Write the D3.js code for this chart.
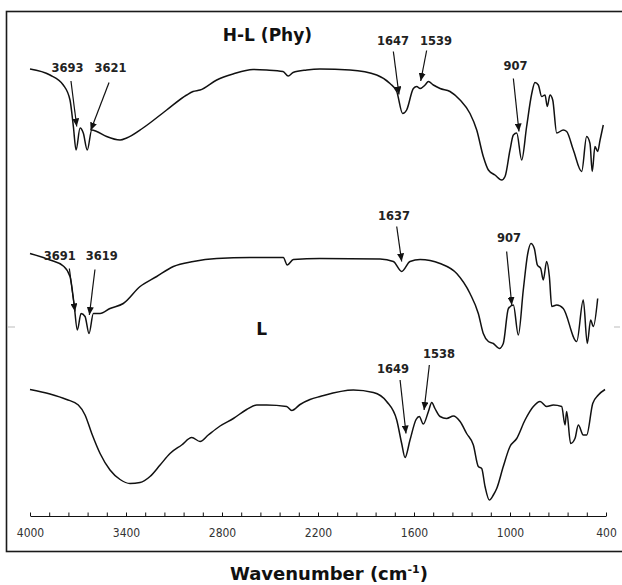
<!DOCTYPE html>
<html>
<head>
<meta charset="utf-8">
<script src="https://cdn.jsdelivr.net/npm/d3@7"></script>
<style>
  body { margin: 0; background: #fff; }
  svg { display: block; }
</style>
</head>
<body>
<script>
// FTIR spectra: [wavenumber (cm-1), transmittance (a.u., offset)]
var spectrumHL = [
  [4000, 89.8], [3875, 88.6], [3792, 86.6], [3750, 83.6], [3729, 78.3], [3712, 73.6],
  [3687, 78.0], [3667, 77.0], [3642, 73.6], [3614, 77.6], [3583, 77.3], [3521, 76.3],
  [3437, 75.6], [3396, 76.0], [3294, 78.0], [3146, 81.6], [3021, 84.6], [2981, 85.3],
  [2937, 85.6], [2833, 87.6], [2731, 88.8], [2606, 89.7], [2521, 89.6], [2419, 89.3],
  [2386, 88.4], [2356, 89.1], [2271, 89.6], [2188, 89.8], [2000, 89.6], [1833, 88.6],
  [1750, 86.9], [1708, 85.3], [1671, 80.9], [1646, 81.6], [1604, 85.9], [1583, 86.3],
  [1562, 85.9], [1531, 86.6], [1510, 87.3], [1479, 86.6], [1437, 85.9], [1375, 85.3],
  [1312, 83.6], [1250, 80.9], [1208, 77.6], [1167, 72.3], [1135, 69.6], [1094, 68.6],
  [1052, 67.6], [1031, 68.3], [1000, 73.6], [979, 76.6], [958, 77.0], [927, 71.6],
  [896, 78.3], [864, 84.9], [844, 87.1], [823, 86.6], [802, 84.3], [781, 84.6],
  [767, 82.3], [750, 84.6], [733, 83.6], [708, 77.0], [667, 77.6], [646, 77.3],
  [604, 73.6], [552, 69.3], [521, 76.3], [500, 74.9], [486, 69.3], [469, 74.3],
  [452, 73.3], [437, 75.6], [417, 78.6]
];

var spectrumL = [
  [4000, 52.9], [3875, 51.6], [3792, 50.4], [3750, 48.3], [3725, 42.9], [3704, 37.6],
  [3681, 40.9], [3656, 40.3], [3631, 36.9], [3604, 40.9], [3562, 40.9], [3500, 41.9],
  [3417, 42.9], [3312, 46.3], [3208, 48.3], [3104, 50.3], [2979, 51.3], [2833, 51.9],
  [2625, 52.1], [2417, 52.1], [2392, 50.6], [2354, 51.7], [2188, 51.9], [1812, 51.8],
  [1729, 51.3], [1677, 49.3], [1625, 51.3], [1562, 51.7], [1437, 50.9], [1333, 48.9],
  [1250, 44.9], [1198, 40.9], [1167, 36.9], [1135, 35.3], [1104, 34.9], [1067, 33.9],
  [1042, 34.9], [1010, 41.9], [979, 42.6], [948, 36.6], [917, 45.6], [889, 52.9],
  [869, 54.9], [848, 53.9], [829, 50.6], [808, 49.9], [792, 47.6], [771, 51.3],
  [754, 48.3], [739, 42.3], [708, 42.6], [667, 41.9], [583, 35.3], [542, 43.6],
  [517, 34.9], [496, 39.6], [479, 38.3], [452, 43.9]
];

var spectrumRaw = [
  [4000, 25.7], [3875, 24.8], [3771, 23.7], [3698, 22.6], [3656, 20.6], [3614, 16.9],
  [3562, 12.9], [3500, 9.6], [3437, 7.7], [3375, 6.9], [3312, 7.1], [3250, 8.3],
  [3187, 10.6], [3125, 12.9], [3052, 14.6], [2989, 16.1], [2937, 15.3], [2886, 16.6],
  [2812, 18.4], [2729, 19.9], [2646, 21.7], [2583, 22.6], [2521, 22.6], [2396, 22.3],
  [2364, 21.5], [2312, 22.7], [2250, 23.7], [2187, 24.3], [1979, 25.6], [1854, 25.1],
  [1771, 23.3], [1708, 19.6], [1677, 14.9], [1656, 12.1], [1625, 15.6], [1587, 19.7],
  [1567, 20.3], [1542, 18.8], [1510, 21.3], [1489, 23.1], [1469, 21.9], [1437, 20.3],
  [1396, 19.9], [1354, 20.4], [1312, 19.3], [1271, 16.9], [1229, 14.6], [1198, 10.3],
  [1177, 9.9], [1156, 6.3], [1129, 3.6], [1104, 4.6], [1083, 5.9], [1042, 10.3],
  [1000, 14.3], [958, 15.9], [906, 19.6], [854, 22.3], [812, 23.3], [771, 22.3],
  [729, 22.6], [677, 22.3], [656, 18.6], [646, 21.3], [621, 14.9], [594, 15.9],
  [573, 18.6], [542, 16.6], [521, 16.6], [483, 22.9], [448, 24.6], [406, 25.7]
];

// peak labels: text, label position [wn, T], arrow from [wn, T] to [wn, T]
var peaks = [
  {text: "3693", at: [3766, 89.2], from: [3744, 87.4], to: [3708, 78.3]},
  {text: "3621", at: [3497, 89.2], from: [3506, 87.1], to: [3621, 77.5]},
  {text: "1647", at: [1731, 94.6], from: [1729, 93.3], to: [1694, 84.7]},
  {text: "1539", at: [1462, 94.6], from: [1521, 93.5], to: [1558, 87.4]},
  {text: "907",  at: [966, 89.6],  from: [979, 87.9],  to: [944, 77.3]},
  {text: "3691", at: [3814, 51.6], from: [3754, 49.9], to: [3719, 41.3]},
  {text: "3619", at: [3552, 51.6], from: [3594, 49.7], to: [3629, 40.6]},
  {text: "1637", at: [1725, 59.6], from: [1708, 58.3], to: [1677, 51.3]},
  {text: "907",  at: [1006, 55.3], from: [1021, 53.3], to: [989, 42.6]},
  {text: "1649", at: [1731, 29.0], from: [1687, 27.6], to: [1650, 16.9]},
  {text: "1538", at: [1444, 32.0], from: [1504, 30.6], to: [1537, 21.6]}
];

var sampleNames = [
  {text: "H-L (Phy)", at: [2516, 95.4]},
  {text: "L", at: [2552, 36.6]}
];

var tickLabels = [4000, 3400, 2800, 2200, 1600, 1000, 400];
var minorStep = 120;

var width = 622, height = 585;

var svg = d3.select("body").append("svg")
  .attr("width", width)
  .attr("height", height);

var x = d3.scaleLinear().domain([4000, 400]).range([30, 606]);
var y = d3.scaleLinear().domain([0, 100]).range([518, 18]);

// frame
svg.append("rect")
  .attr("x", 6.5).attr("y", 11.5)
  .attr("width", 620).attr("height", 540)
  .attr("fill", "none")
  .attr("stroke", "#1a1a1a")
  .attr("stroke-width", 1.6);

svg.append("line").attr("x1", 8).attr("x2", 15).attr("y1", 327).attr("y2", 327)
  .attr("stroke", "#bbb");
svg.append("line").attr("x1", 614).attr("x2", 620).attr("y1", 327).attr("y2", 327)
  .attr("stroke", "#bbb");

// axis
var tickVals = d3.range(4000, 399, -minorStep);
var axis = svg.append("g")
  .attr("transform", "translate(0,516)")
  .call(d3.axisBottom(x)
    .tickValues(tickVals)
    .tickSizeInner(-3.5)
    .tickSizeOuter(0)
    .tickPadding(12.5)
    .tickFormat(function(d) { return tickLabels.indexOf(d) >= 0 ? d : ""; }));

axis.select(".domain").attr("stroke", "#111").attr("stroke-width", 1.2);
axis.selectAll(".tick line").attr("stroke", "#111");
axis.selectAll(".tick text")
  .style("font-family", "'Liberation Sans Narrow', 'DejaVu Sans Condensed', sans-serif")
  .style("font-size", "12px")
  .attr("fill", "#333");

svg.append("text")
  .attr("x", 329)
  .attr("y", 580)
  .attr("text-anchor", "middle")
  .style("font-family", "'DejaVu Sans', sans-serif")
  .style("font-weight", "bold")
  .style("font-size", "18px")
  .attr("fill", "#111")
  .call(function(t) {
    t.append("tspan").text("Wavenumber (cm");
    t.append("tspan").attr("dy", "-7").style("font-size", "11px").text("-1");
    t.append("tspan").attr("dy", "7").text(")");
  });

// spectra
var line = d3.line()
  .x(function(d) { return x(d[0]); })
  .y(function(d) { return y(d[1]); })
  .curve(d3.curveMonotoneX);

[spectrumHL, spectrumL, spectrumRaw].forEach(function(s) {
  svg.append("path")
    .datum(s)
    .attr("d", line)
    .attr("fill", "none")
    .attr("stroke", "#111")
    .attr("stroke-width", 1.5)
    .attr("stroke-linejoin", "round");
});

// arrows
svg.append("defs").append("marker")
  .attr("id", "head")
  .attr("viewBox", "0 0 8 7")
  .attr("refX", 8).attr("refY", 3.5)
  .attr("markerUnits", "userSpaceOnUse")
  .attr("markerWidth", 8).attr("markerHeight", 7)
  .attr("orient", "auto")
  .append("path")
  .attr("d", "M0,0L8,3.5L0,7Z")
  .attr("fill", "#111");

svg.selectAll(".arrow")
  .data(peaks)
  .enter().append("line")
  .attr("class", "arrow")
  .attr("x1", function(d) { return x(d.from[0]); })
  .attr("y1", function(d) { return y(d.from[1]); })
  .attr("x2", function(d) { return x(d.to[0]); })
  .attr("y2", function(d) { return y(d.to[1]); })
  .attr("stroke", "#111")
  .attr("stroke-width", 1.2)
  .attr("marker-end", "url(#head)");

svg.selectAll(".peak")
  .data(peaks)
  .enter().append("text")
  .attr("class", "peak")
  .attr("x", function(d) { return x(d.at[0]); })
  .attr("y", function(d) { return y(d.at[1]); })
  .attr("text-anchor", "middle")
  .style("font-family", "'DejaVu Sans', sans-serif")
  .style("font-weight", "bold")
  .style("font-size", "11.5px")
  .attr("fill", "#222")
  .text(function(d) { return d.text; });

svg.selectAll(".name")
  .data(sampleNames)
  .enter().append("text")
  .attr("class", "name")
  .attr("x", function(d) { return x(d.at[0]); })
  .attr("y", function(d) { return y(d.at[1]); })
  .attr("text-anchor", "middle")
  .style("font-family", "'DejaVu Sans', sans-serif")
  .style("font-weight", "bold")
  .style("font-size", "17px")
  .attr("fill", "#111")
  .text(function(d) { return d.text; });
</script>
</body>
</html>
